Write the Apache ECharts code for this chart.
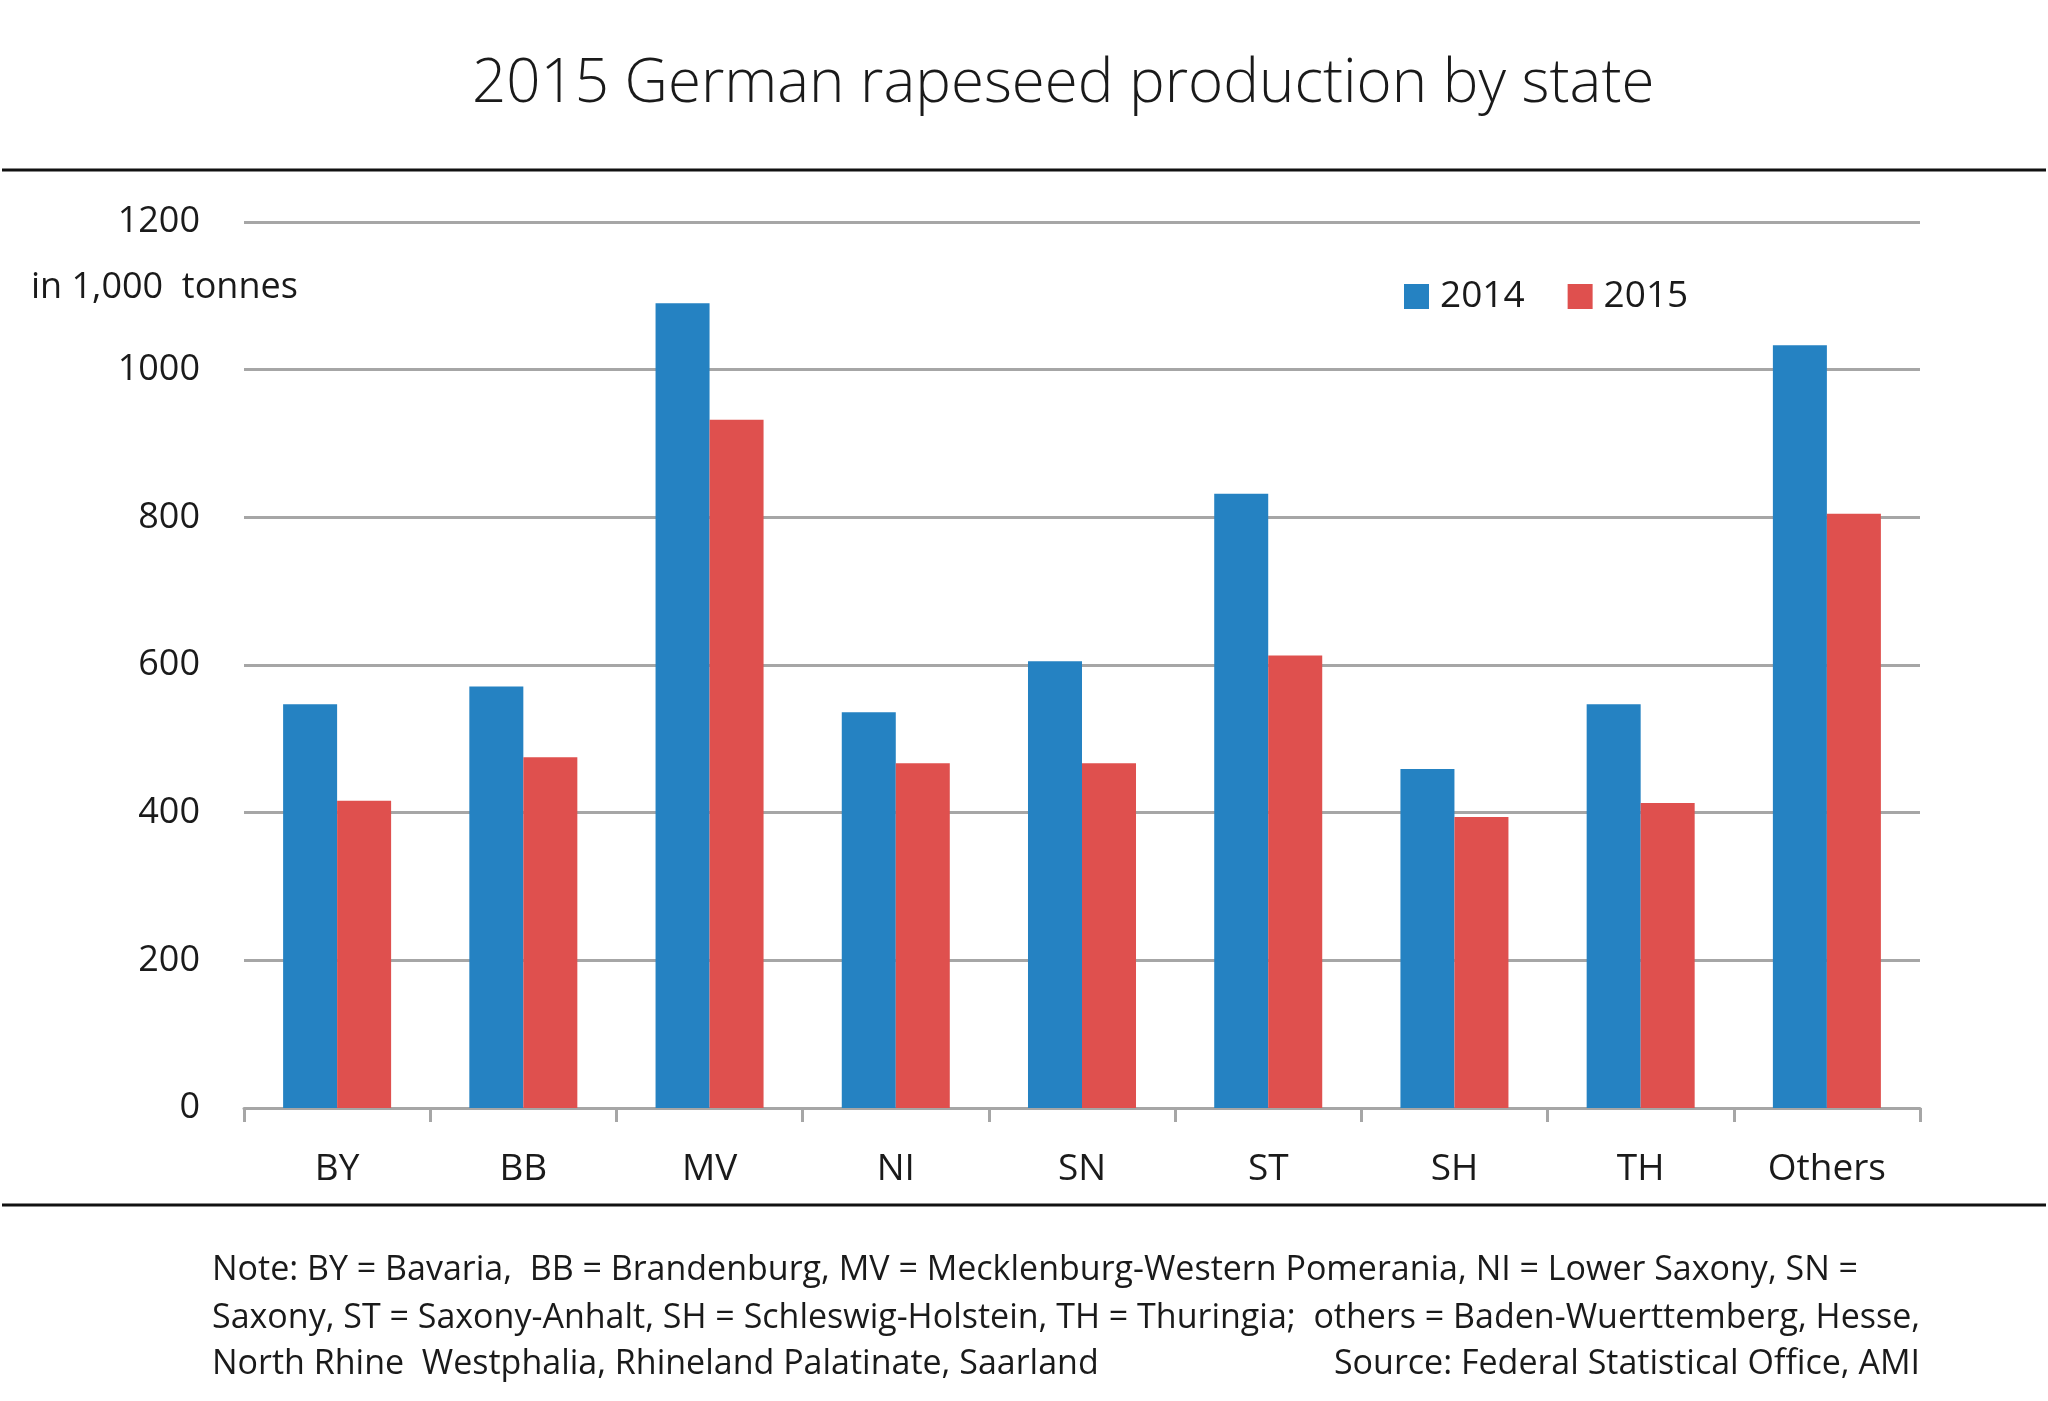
<!DOCTYPE html>
<html>
<head>
<meta charset="utf-8">
<title>2015 German rapeseed production by state</title>
<script src="https://cdn.jsdelivr.net/npm/echarts@6/dist/echarts.min.js"></script>
<style>
  html, body { margin: 0; padding: 0; background: #fff; }
  #main { width: 2048px; height: 1401px; }
</style>
</head>
<body>
<div id="main"></div>
<script>
// data, in 1,000 tonnes
var states = ['BY', 'BB', 'MV', 'NI', 'SN', 'ST', 'SH', 'TH', 'Others'];
var values2014 = [547, 571, 1090, 536, 605, 832, 459, 547, 1033];
var values2015 = [416, 475, 932, 467, 467, 613, 394, 413, 805];
var yTicks = [0, 200, 400, 600, 800, 1000, 1200];

var FONT = '"Open Sans", "Noto Sans", sans-serif';
var TXT = '#1a1a1a';

var myChart = echarts.init(document.getElementById('main'));

var option = {
  backgroundColor: '#fff',
  textStyle: { fontFamily: FONT },
  title: {
    text: '2015 German rapeseed production by state',
    left: 467,
    top: 50,
    textStyle: { fontFamily: FONT, fontSize: 60, fontWeight: 300, color: TXT }
  },
  legend: {
    data: ['2014', '2015'],
    left: 1399,
    top: 273,
    itemWidth: 25,
    itemHeight: 25,
    itemGap: 43,
    icon: 'rect',
    textStyle: { fontFamily: FONT, fontSize: 37, color: TXT, padding: [0, 0, 0, 6] }
  },
  grid: {
    left: 244,
    right: 128,
    top: 222,
    bottom: 293,
    containLabel: false
  },
  xAxis: {
    type: 'category',
    data: states,
    axisLine: { lineStyle: { color: '#a6a6a6', width: 3 } },
    axisTick: { show: true, length: 14, lineStyle: { color: '#a6a6a6', width: 3 } },
    axisLabel: { fontFamily: FONT, fontSize: 37, color: TXT, margin: 43 }
  },
  yAxis: {
    type: 'value',
    min: yTicks[0],
    max: yTicks[yTicks.length - 1],
    interval: 200,
    axisLine: { show: false },
    axisTick: { show: false },
    axisLabel: {
      fontFamily: FONT, fontSize: 36, color: TXT, margin: 44,
      formatter: function (v) { return String(v); }
    },
    splitLine: { lineStyle: { color: '#a6a6a6', width: 3 } }
  },
  series: [
    {
      name: '2014',
      type: 'bar',
      data: values2014,
      barGap: '0%',
      barCategoryGap: '42%',
      itemStyle: { color: '#2582c2' }
    },
    {
      name: '2015',
      type: 'bar',
      data: values2015,
      itemStyle: { color: '#df504e' }
    }
  ],
  graphic: [
    { type: 'line', shape: { x1: 2, y1: 170, x2: 2046, y2: 170 }, style: { stroke: '#111', lineWidth: 3 } },
    { type: 'line', shape: { x1: 2, y1: 1205, x2: 2046, y2: 1205 }, style: { stroke: '#111', lineWidth: 3 } },
    {
      type: 'text', left: 31, top: 270,
      style: { text: 'in 1,000  tonnes', fontFamily: FONT, fontSize: 36, fill: TXT }
    },
    {
      type: 'text', left: 212, top: 1253,
      style: { text: 'Note: BY = Bavaria,  BB = Brandenburg, MV = Mecklenburg-Western Pomerania, NI = Lower Saxony, SN =', fontFamily: FONT, fontSize: 34, fill: TXT }
    },
    {
      type: 'text', left: 212, top: 1301,
      style: { text: 'Saxony, ST = Saxony-Anhalt, SH = Schleswig-Holstein, TH = Thuringia;  others = Baden-Wuerttemberg, Hesse,', fontFamily: FONT, fontSize: 34, fill: TXT }
    },
    {
      type: 'text', left: 212, top: 1347,
      style: { text: 'North Rhine  Westphalia, Rhineland Palatinate, Saarland', fontFamily: FONT, fontSize: 34, fill: TXT }
    },
    {
      type: 'text', right: 128, top: 1347,
      style: { text: 'Source: Federal Statistical Office, AMI', fontFamily: FONT, fontSize: 34, fill: TXT }
    }
  ]
};

myChart.setOption(option);
</script>
</body>
</html>
